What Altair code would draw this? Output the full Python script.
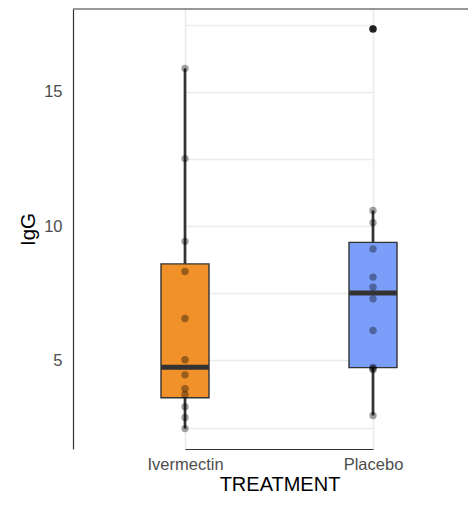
import altair as alt
import pandas as pd

treatments = ["Ivermectin", "Placebo"]
ivermectin_igg = [15.87, 12.51, 9.43, 8.31, 6.56, 5.02, 4.46, 3.94, 3.72, 3.27, 2.87, 2.46]
placebo_igg = [17.34, 10.58, 10.12, 9.15, 8.10, 7.72, 7.29, 6.11, 4.74, 4.70, 4.65, 2.95]
box_colors = ["#EE8512", "#6C93F9"]
y_grid_values = [2.5, 5, 7.5, 10, 12.5, 15, 17.5]

df = pd.DataFrame({
    "TREATMENT": [treatments[0]] * len(ivermectin_igg) + [treatments[1]] * len(placebo_igg),
    "IgG": ivermectin_igg + placebo_igg,
})

FONT = "Liberation Sans"
W, H = 395, 440

x_enc = alt.X(
    "TREATMENT:N",
    scale=alt.Scale(type="point", domain=treatments, range=[112, 300], padding=0),
    axis=alt.Axis(
        title="TREATMENT", titleFont=FONT, titleFontSize=20, titleFontWeight="normal",
        titleColor="black", titlePadding=1.5, titleX=206.5,
        labelFont=FONT, labelFontSize=16.5, labelColor="#4d4d4d", labelPadding=7, labelAngle=0,
        ticks=False, domainColor="#333333", domainWidth=1.2,
        grid=True, gridColor="#ebebeb", gridWidth=1.6,
    ),
)
y_enc = alt.Y(
    "IgG:Q",
    scale=alt.Scale(domain=[1.70, 18.08], nice=False, zero=False),
    axis=alt.Axis(
        values=y_grid_values,
        labelExpr="datum.value % 5 === 0 ? format(datum.value, 'd') : ''",
        title="IgG", titleFont=FONT, titleFontSize=20.5, titleFontWeight="normal",
        titleColor="black", titlePadding=5,
        labelFont=FONT, labelFontSize=16.5, labelColor="#4d4d4d", labelPadding=11,
        ticks=False, domainColor="#333333", domainWidth=1.2,
        grid=True, gridColor="#ebebeb", gridWidth=1.6,
    ),
)

box = alt.Chart(df).mark_boxplot(
    extent=1.5,
    size=48,
    box={"stroke": "#333333", "strokeWidth": 1.4, "fillOpacity": 0.9},
    median={"color": "#333333", "thickness": 5, "opacity": 1},
    rule={"color": "#333333", "strokeWidth": 2.7},
    ticks=False,
    outliers=False,
).encode(
    x=x_enc,
    y=y_enc,
    color=alt.Color("TREATMENT:N", scale=alt.Scale(domain=treatments, range=box_colors), legend=None),
)

outliers = alt.Chart(df).transform_joinaggregate(
    q1="q1(IgG)", q3="q3(IgG)", groupby=["TREATMENT"]
).transform_filter(
    "datum.IgG > datum.q3 + 1.5 * (datum.q3 - datum.q1) || datum.IgG < datum.q1 - 1.5 * (datum.q3 - datum.q1)"
).mark_circle(size=55, color="#333333", opacity=1).encode(
    x=alt.X("TREATMENT:N"),
    y=alt.Y("IgG:Q"),
)

points = alt.Chart(df).mark_circle(size=55, color="black", opacity=0.36).encode(
    x=alt.X("TREATMENT:N"),
    y=alt.Y("IgG:Q"),
)

top_border = alt.Chart(alt.Data(values=[{}])).mark_rule(color="#333333", strokeWidth=1.2).encode(
    x=alt.value(0), x2=alt.value(W), y=alt.value(0)
)

chart = alt.layer(box, outliers, points, top_border).properties(
    width=W, height=H,
    autosize=alt.AutoSizeParams(type="none"),
    padding={"left": 65, "top": 1, "right": 0, "bottom": 46},
    background="white",
).configure_view(stroke=None)

chart.save("out.html", embed_options={"renderer": "svg", "actions": False})
